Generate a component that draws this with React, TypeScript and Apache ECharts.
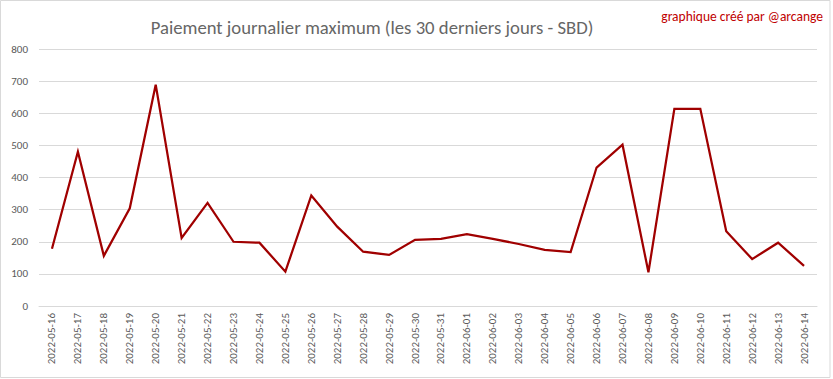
import React, { useEffect, useRef } from "react";
import * as echarts from "echarts";

const dates = [
  "2022-05-16", "2022-05-17", "2022-05-18", "2022-05-19", "2022-05-20", "2022-05-21",
  "2022-05-22", "2022-05-23", "2022-05-24", "2022-05-25", "2022-05-26", "2022-05-27",
  "2022-05-28", "2022-05-29", "2022-05-30", "2022-05-31", "2022-06-01", "2022-06-02",
  "2022-06-03", "2022-06-04", "2022-06-05", "2022-06-06", "2022-06-07", "2022-06-08",
  "2022-06-09", "2022-06-10", "2022-06-11", "2022-06-12", "2022-06-13", "2022-06-14",
];

const payouts = [
  178, 480, 156, 304, 689, 212, 321, 200, 197, 107, 344, 247, 169, 159, 206,
  209, 224, 209, 193, 175, 168, 431, 502, 105, 614, 614, 233, 146, 197, 125,
];

const titleText = "Paiement journalier maximum (les 30 derniers jours - SBD)";
const creditText = "graphique créé par @arcange";

export default function App() {
  const ref = useRef<HTMLDivElement>(null);
  useEffect(() => {
    document.body.style.margin = "0";
    const chart = echarts.init(ref.current!, null, { renderer: "svg" });
    const font = "Carlito, 'Open Sans', 'Noto Sans', sans-serif";
    chart.setOption({
      animation: false,
      backgroundColor: "#ffffff",
      title: {
        text: titleText,
        left: 367,
        textAlign: "center",
        top: 13,
        textStyle: { fontFamily: font, fontSize: 18.7, fontWeight: "normal", color: "#666666" },
      },
      graphic: [
        {
          type: "rect",
          shape: { x: 0.5, y: 0.5, width: 829.5, height: 377 },
          style: { fill: "none", stroke: "#d9d9d9", lineWidth: 1 },
          silent: true,
        },
        {
          type: "text",
          x: 823,
          y: 16,
          style: {
            text: creditText,
            align: "right",
            verticalAlign: "middle",
            fontFamily: font,
            fontSize: 13.5,
            fill: "#c00000",
          },
        },
      ],
      grid: { left: 39, right: 16, top: 49, bottom: 73, containLabel: false },
      xAxis: {
        type: "category",
        data: dates,
        boundaryGap: true,
        axisLine: { lineStyle: { color: "#d9d9d9" } },
        axisTick: { show: false },
        axisLabel: {
          rotate: 90,
          interval: 0,
          color: "#595959",
          fontFamily: font,
          fontSize: 11,
          margin: 7,
        },
      },
      yAxis: {
        type: "value",
        min: 0,
        max: 800,
        interval: 100,
        axisLine: { show: false },
        axisTick: { show: false },
        splitLine: { lineStyle: { color: "#d9d9d9" } },
        axisLabel: { color: "#595959", fontFamily: font, fontSize: 11, margin: 11 },
      },
      series: [
        {
          type: "line",
          data: payouts,
          symbol: "none",
          lineStyle: { color: "#a00000", width: 2.25, join: "miter" },
        },
      ],
    });
    return () => chart.dispose();
  }, []);
  return <div ref={ref} style={{ width: 833, height: 379 }} />;
}
